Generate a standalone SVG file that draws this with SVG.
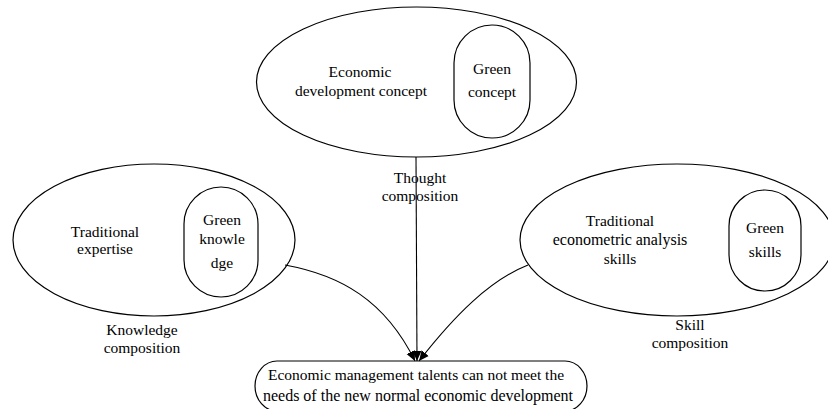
<svg xmlns="http://www.w3.org/2000/svg" width="828" height="409" viewBox="0 0 828 409">
  <style>
    .shape { fill: none; stroke: #000; stroke-width: 1.2; }
    .edge { fill: none; stroke: #000; stroke-width: 1.1; }
    text { font-family: "Liberation Serif", "Times New Roman", serif; font-size: 15.5px; fill: #000; text-anchor: middle; }
    .big { font-size: 16px; }
  </style>
  <defs>
    <marker id="arrow" markerWidth="12" markerHeight="12" refX="10" refY="6" orient="auto" markerUnits="userSpaceOnUse">
      <path d="M0,1.5 L10,6 L0,10.5 Z" fill="#000"/>
    </marker>
  </defs>
  <rect width="828" height="409" fill="#fff"/>

  <g id="connectors">
    <line class="edge" x1="416" y1="157" x2="417" y2="361" marker-end="url(#arrow)"/>
    <path class="edge" d="M285,265 C340,275 385,300 415,361" marker-end="url(#arrow)"/>
    <path class="edge" d="M528,265 C490,280 455,315 419,361" marker-end="url(#arrow)"/>
  </g>

  <g id="thought">
    <ellipse class="shape" cx="416.5" cy="82" rx="160" ry="75"/>
    <text x="360" y="77">Economic</text>
    <text x="361" y="96">development concept</text>
    <rect class="shape" x="454" y="25" width="76" height="113" rx="38" ry="38"/>
    <text x="492" y="74">Green</text>
    <text x="492" y="97">concept</text>
  </g>

  <g id="knowledge">
    <ellipse class="shape" cx="154" cy="240" rx="141" ry="76"/>
    <text x="105" y="237">Traditional</text>
    <text x="105" y="254">expertise</text>
    <rect class="shape" x="184" y="187" width="74" height="110" rx="37" ry="37"/>
    <text x="222" y="225">Green</text>
    <text x="222" y="244">knowle</text>
    <text x="222" y="268">dge</text>
  </g>

  <g id="skill">
    <ellipse class="shape" cx="677" cy="240" rx="157" ry="76"/>
    <text x="620" y="226">Traditional</text>
    <text x="620" y="245" class="big">econometric analysis</text>
    <text x="620" y="264">skills</text>
    <rect class="shape" x="729" y="190" width="72" height="101" rx="36" ry="36"/>
    <text x="765" y="233">Green</text>
    <text x="765" y="257">skills</text>
  </g>

  <g id="labels">
    <text x="420" y="183">Thought</text>
    <text x="420" y="201">composition</text>
    <text x="142" y="335">Knowledge</text>
    <text x="142" y="353">composition</text>
    <text x="690" y="330">Skill</text>
    <text x="690" y="348">composition</text>
  </g>

  <g id="result">
    <rect class="shape" x="255" y="361" width="332" height="50" rx="22" ry="25"/>
    <text x="416" y="380">Economic management talents can not meet the</text>
    <text x="418" y="401" class="big">needs of the new normal economic development</text>
  </g>
</svg>
